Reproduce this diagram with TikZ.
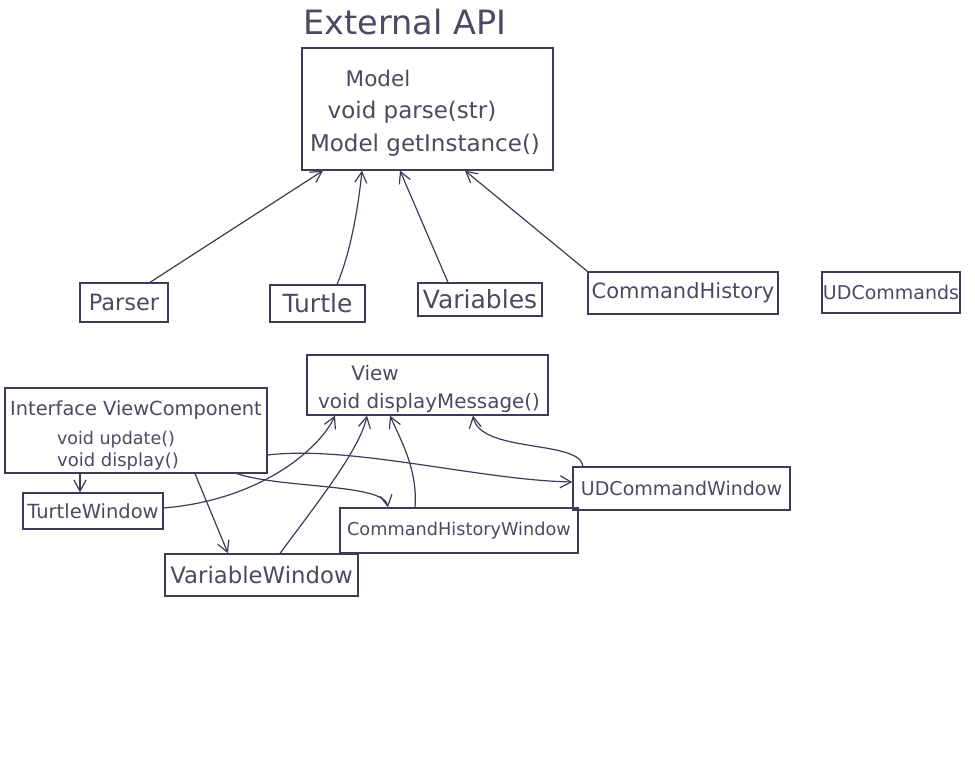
\documentclass[tikz,border=0pt]{standalone}
\usepackage{fontspec}
\setmainfont{DejaVu Sans}
\usetikzlibrary{arrows.meta}
\newcommand\myfs[1]{\fontsize{#1}{#1}\selectfont}
\definecolor{ink}{HTML}{3C3C58}
\definecolor{txt}{HTML}{4A4A62}
\tikzset{
  box/.style={draw=ink, line width=1.3pt, inner sep=0pt, text=txt},
  lbl/.style={inner sep=0pt, text=txt},
  arr/.style={draw=ink, line width=1.2pt, -{Straight Barb[length=11pt,width=12pt]}},
}
\begin{document}
\begin{tikzpicture}[x=1pt,y=-1pt]
\useasboundingbox[fill=white] (0,0) rectangle (975,765);
% title
\node[lbl] (title) at (405,22) {\myfs{33.5}External API};
% model
\node[box, minimum width=251pt, minimum height=122pt] (model) at (427.5,109) {};
\node[lbl] (m1) at (378,78) {\myfs{21.5}Model};
\node[lbl] (m2) at (412,112) {\myfs{23}void parse(str)};
\node[lbl] (m3) at (425,145) {\myfs{23}Model getInstance()};
% top row
\node[box, minimum width=88pt, minimum height=39pt] (parser) at (124,302.5) {\myfs{22.5}Parser};
\node[box, minimum width=95pt, minimum height=37pt] (turtle) at (317.5,303.5) {\myfs{25}Turtle};
\node[box, minimum width=124pt, minimum height=33pt] (variables) at (480,299.5) {\myfs{25}Variables};
\node[box, minimum width=190pt, minimum height=42pt] (cmdhist) at (683,293) {\myfs{21}CommandHistory};
\node[box, minimum width=138pt, minimum height=41pt] (udcmds) at (891,292.5) {\myfs{19}UDCommands};
% view
\node[box, minimum width=241pt, minimum height=60pt] (view) at (427.5,385) {};
\node[lbl] (v1) at (375,373) {\myfs{20}View};
\node[lbl] (v2) at (429,403) {\myfs{19.9}void displayMessage()};
% view component
\node[box, minimum width=262pt, minimum height=85pt] (viewcomp) at (136,430.5) {};
\node[lbl] (c1) at (136,410) {\myfs{19.4}Interface ViewComponent};
\node[lbl] (c2) at (116,440) {\myfs{17.5}void update()};
\node[lbl] (c3) at (118,462) {\myfs{18}void display()};
% windows
\node[box, minimum width=140pt, minimum height=36pt] (turtlewin) at (93,511) {\myfs{19.5}TurtleWindow};
\node[box, minimum width=193pt, minimum height=42pt] (varwin) at (261.5,575) {\myfs{22.8}VariableWindow};
\node[box, minimum width=238pt, minimum height=45pt] (cmdhistwin) at (459,530.5) {\myfs{17.7}CommandHistoryWindow};
\node[box, minimum width=217pt, minimum height=43pt] (udcmdwin) at (681.5,488.5) {\myfs{19}UDCommandWindow};
% connectors to model
\draw[arr] ([xshift=26pt]parser.north) -- ([xshift=-104.5pt]model.south);
\draw[arr] ([xshift=19.5pt]turtle.north) .. controls +(13,-30) and +(-4,39) .. ([xshift=-65.5pt]model.south);
\draw[arr] ([xshift=-32pt]variables.north) -- ([xshift=-27.5pt]model.south);
\draw[arr] (cmdhist.north west) -- ([xshift=37.5pt]model.south);
% view component relations
\draw[arr] ([xshift=-56pt]viewcomp.south) -- ([xshift=-13pt]turtlewin.north);
\draw[arr] ([xshift=59pt]viewcomp.south) -- ([xshift=-33.5pt]varwin.north);
\draw[arr] ([xshift=101pt]viewcomp.south) .. controls +(45,15) and +(-4,-24) .. ([xshift=-71pt]cmdhistwin.north);
\draw[arr] ([yshift=-24.5pt]viewcomp.east) .. controls +(83,-10) and +(-93,-2) .. ([yshift=6.5pt]udcmdwin.west);
% windows to view
\draw[arr] ([yshift=3pt]turtlewin.east) .. controls +(97,-8) and +(-15,33) .. ([xshift=-92.5pt]view.south);
\draw[arr] ([xshift=18.5pt]varwin.north) .. controls +(40,-54) and +(-7,33) .. ([xshift=-60.5pt]view.south);
\draw[arr] ([xshift=-44pt]cmdhistwin.north) .. controls +(3,-38) and +(10,23) .. ([xshift=-37.5pt]view.south);
\draw[arr] ([xshift=-98.5pt]udcmdwin.north) .. controls +(-3,-27) and +(7,38) .. ([xshift=45.5pt]view.south);
\end{tikzpicture}
\end{document}
